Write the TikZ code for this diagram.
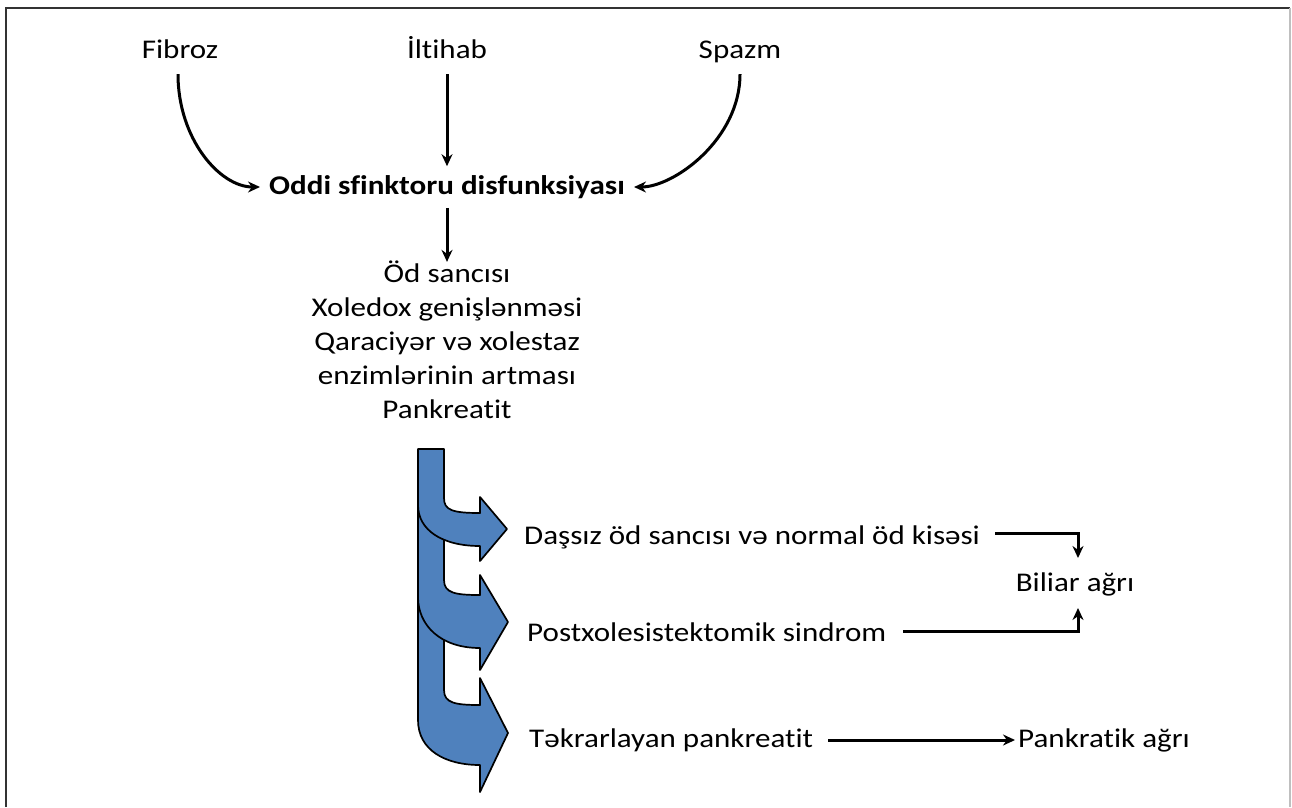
\documentclass[tikz,border=0pt]{standalone}
\usepackage{fontspec}
\setmainfont{Carlito}[FakeStretch=1.15, Ligatures=NoCommon]
\usetikzlibrary{arrows.meta,calc}
\definecolor{barblue}{HTML}{4F81BD}
\begin{document}
\begin{tikzpicture}[x=1pt,y=-1pt,
  every node/.style={inner sep=1pt, font=\fontsize{27}{34}\selectfont},
  toplbl/.style={text height=19pt, text depth=6pt, anchor=base},
  conn/.style={line width=3pt, -{Stealth[length=12pt,width=11pt]}},
  bluearrow/.style={fill=barblue, draw=black, line width=1.7pt, line join=round}]
\useasboundingbox (0,0) rectangle (1292,807);
% frame
\draw[line width=1.6pt, black!80] (6,807) -- (6,8) -- (1290,8);
\draw[line width=1.2pt, black!25] (1290,8) -- (1290,807);

% top nodes
\node[toplbl] (fib) at (180,58) {Fibroz};
\node[toplbl] (ilt) at (447,58) {İltihab};
\node[toplbl] (spa) at (740,58) {Spazm};
\node[font=\fontsize{27}{34}\selectfont\bfseries] (oddi) at (447,187) {Oddi sfinktoru disfunksiyası};
\node[align=center] (eff) at (447,340) {Öd sancısı\\Xoledox genişlənməsi\\Qaraciyər və xolestaz\\enzimlərinin artması\\Pankreatit};

\draw[conn] ($(fib.south)+(-2,9)$) .. controls +(0,65) and +(-40,0) .. ($(oddi.west)+(-8,0)$);
\draw[conn] ($(ilt.south)+(0,9)$) -- ($(oddi.north)+(0,-8)$);
\draw[conn] ($(spa.south)+(0,9)$) .. controls +(0,65) and +(40,0) .. ($(oddi.east)+(8,0)$);
\draw[conn] ($(oddi.south)+(0,8)$) -- ($(eff.north)+(0,2)$);

% blue curved arrows
\draw[bluearrow] (418,590) -- (444,590) -- (444,690) .. controls (444,703) and (455,705) .. (480,705)
  -- (480,678) -- (508,733) -- (480,792) -- (480,765) .. controls (445,765) and (418,750) .. (418,720) -- cycle;
\draw[bluearrow] (418,500) -- (444,500) -- (444,580) .. controls (444,593) and (455,595) .. (480,595)
  -- (480,575) -- (508,622) -- (480,670) -- (480,648) .. controls (440,648) and (418,625) .. (418,597) -- cycle;
\draw[bluearrow] (418,449) -- (444,449) -- (444,498) .. controls (444,510) and (452,513) .. (480,513)
  -- (480,497) -- (507,529) -- (480,561) -- (480,546) .. controls (442,546) and (418,530) .. (418,505) -- cycle;

% right side
\node[anchor=west] (d1) at (523,537) {Daşsız öd sancısı və normal öd kisəsi};
\node[anchor=west] (d2) at (526,632) {Postxolesistektomik sindrom};
\node[anchor=west] (d3) at (528,740) {Təkrarlayan pankreatit};
\node (bil) at (1075,584) {Biliar ağrı};
\node[anchor=west] (pan) at (1017,740) {Pankratik ağrı};
\coordinate (bilTop) at (1078,558);
\coordinate (bilBot) at (1078,608);

\draw[conn] ($(d1.east)+(14,-4)$) -| (bilTop);
\draw[conn] ($(d2.east)+(16,-1)$) -| (bilBot);
\draw[conn] ($(d3.east)+(14,0)$) -- ($(pan.west)+(-2,0)$);
\end{tikzpicture}
\end{document}
